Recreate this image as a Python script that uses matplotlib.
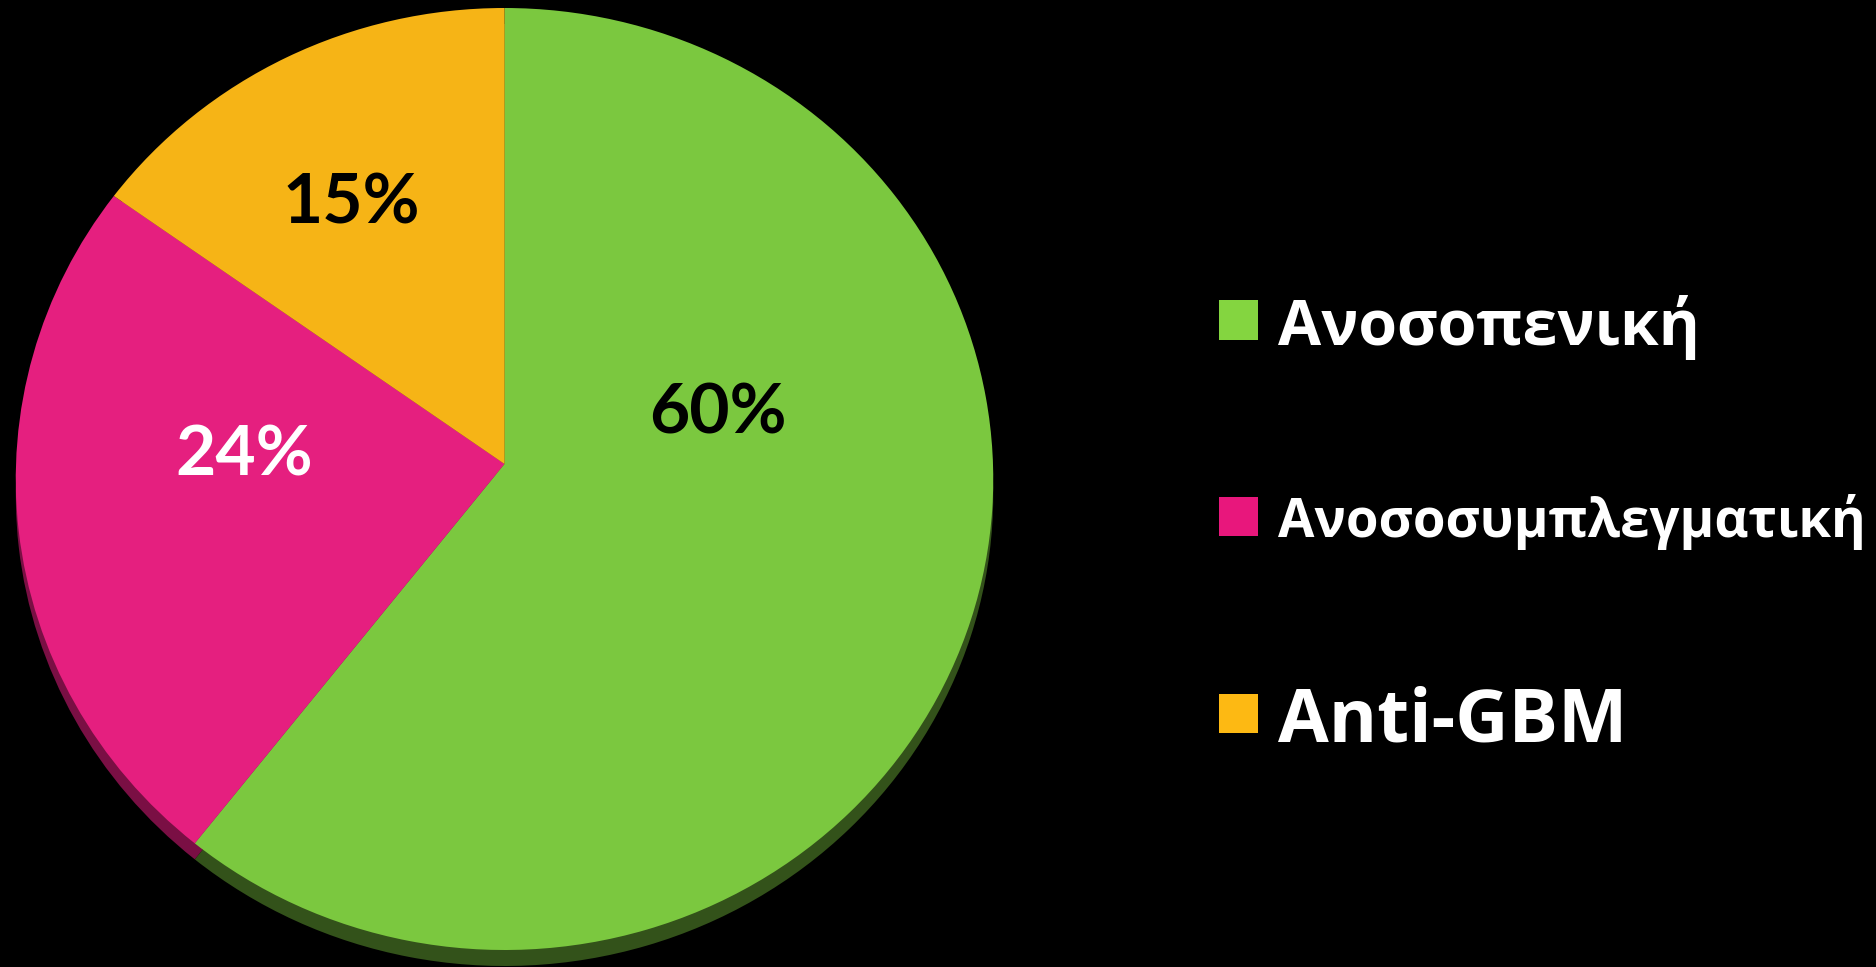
import matplotlib
matplotlib.use("Agg")
import numpy as np
import matplotlib.pyplot as plt
import matplotlib.transforms as mtransforms

# Share of each type
categories = ["Ανοσοπενική", "Ανοσοσυμπλεγματική", "Anti-GBM"]
values = [60, 24, 15]
pct_labels = ["60%", "24%", "15%"]

top_colors = ["#7bc83f", "#e51f7f", "#f6b416"]
side_colors = ["#33521a", "#7a0f44", "#7a5a0a"]
legend_colors = ["#84d540", "#e8177c", "#fdb913"]

W, H = 1876, 967
TILT = 0.032  # perspective strength: far (top) edge appears smaller

fig = plt.figure(figsize=(W / 100, H / 100), dpi=100, facecolor="black")


class Perspective(mtransforms.Transform):
    """Simple homography giving the disc a slight tilt away from the viewer."""
    input_dims = output_dims = 2

    def __init__(self, k):
        super().__init__()
        self.k = k

    def transform_non_affine(self, xy):
        xy = np.asarray(xy, dtype=float)
        w = 1 + self.k * xy[:, 1]
        return np.column_stack([xy[:, 0] / w, xy[:, 1] / w])


def px_axes(left, top, width, height):
    return fig.add_axes([left / W, 1 - (top + height) / H, width / W, height / H])


def draw_disc(ax, colors):
    wedges, _ = ax.pie(values, colors=colors, startangle=90, counterclock=False,
                       wedgeprops=dict(linewidth=0))
    persp = Perspective(TILT)
    for w in wedges:
        w.set_transform(persp + ax.transData)
    ax.set_xlim(-1, 1)
    ax.set_ylim(-1 / (1 - TILT), 1 / (1 + TILT))
    ax.set_aspect("auto")
    ax.axis("off")


# Side of the disc: a darker copy shifted downward
draw_disc(px_axes(16, 24, 977, 942), side_colors)
# Top face of the disc
draw_disc(px_axes(16, 8, 977, 942), top_colors)

# Percentage labels (figure pixel centres)
label_pos = [(718, 414), (244, 456), (351, 204)]
label_col = ["black", "white", "black"]
for txt, (x, y), c in zip(pct_labels, label_pos, label_col):
    fig.text(x / W, 1 - y / H, txt, color=c, fontsize=50, fontweight="bold",
             family=["Lato", "DejaVu Sans"], ha="center", va="center")

# Legend
legend_y = [320, 516, 713]
legend_size = [45, 38, 53]
for name, col, y, fs in zip(categories, legend_colors, legend_y, legend_size):
    fig.patches.append(plt.Rectangle((1219 / W, 1 - (y + 19.5) / H), 39 / W, 39 / H,
                                     transform=fig.transFigure, facecolor=col,
                                     edgecolor="none"))
    fig.text(1278 / W, 1 - y / H, name, color="white", fontsize=fs,
             fontweight="bold", family=["Open Sans", "DejaVu Sans"],
             ha="left", va="center_baseline")

fig.savefig("out.png", dpi=100, facecolor="black")
